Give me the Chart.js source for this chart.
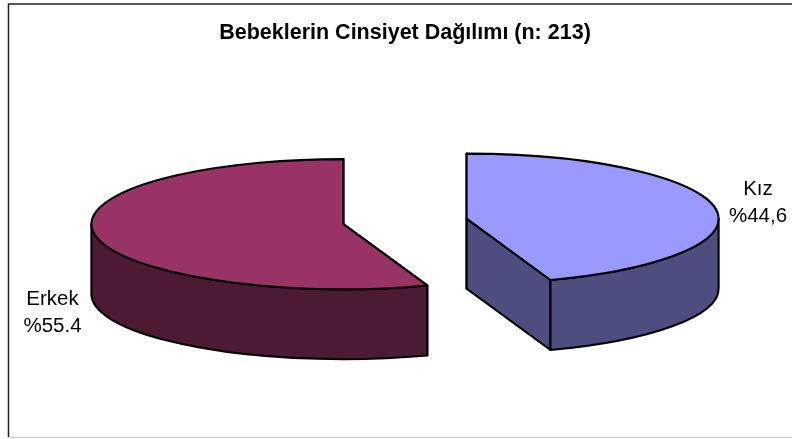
<!DOCTYPE html>
<html>
<head>
<meta charset="utf-8">
<title>Bebeklerin Cinsiyet Dağılımı</title>
<script src="https://cdn.jsdelivr.net/npm/chart.js@4"></script>
<style>
    html, body { margin: 0; padding: 0; background: #fff; }
    canvas { display: block; }
</style>
</head>
<body>
<canvas id="pie" width="792" height="439"></canvas>
<script>
const chartTitle = 'Bebeklerin Cinsiyet Dağılımı (n: 213)';
const categories = ['Kız', 'Erkek'];
const percentLabels = ['%44,6', '%55.4'];
const values = [44.6, 55.4];

const topColors = ['#9999FF', '#993366'];
const wallColors = ['#4D4D80', '#4D1A33'];
const labelCenters = [[758, 195], [52.5, 305]];

// aspecto del pastel 3D
const squash = 0.258;
const depth = 70;
const explode = 62.5;
const pieRadius = 252;
const outline = 2.1;

// centro de la porcion ya separado, en pantalla (el eje y va aplastado)
function sliceGeometry(arc, cy) {
    return {
        x: arc.x,
        y: cy + (arc.y - cy) * squash,
        r: arc.outerRadius,
        start: arc.startAngle,
        end: arc.endAngle
    };
}

function wallPath(ctx, g) {
    // pared exterior: solo la mitad inferior de la elipse se ve
    const ranges = [[0, Math.PI], [2 * Math.PI, 3 * Math.PI]];
    ranges.forEach(function(range) {
        const a = Math.max(g.start, range[0]);
        const b = Math.min(g.end, range[1]);
        if (b <= a) return;
        ctx.beginPath();
        ctx.ellipse(g.x, g.y, g.r, g.r * squash, 0, a, b);
        ctx.ellipse(g.x, g.y + depth, g.r, g.r * squash, 0, b, a, true);
        ctx.closePath();
        ctx.fill();
        ctx.stroke();
    });
}

function cutFace(ctx, g, angle) {
    const px = g.x + Math.cos(angle) * g.r;
    const py = g.y + Math.sin(angle) * g.r * squash;
    ctx.beginPath();
    ctx.moveTo(g.x, g.y);
    ctx.lineTo(px, py);
    ctx.lineTo(px, py + depth);
    ctx.lineTo(g.x, g.y + depth);
    ctx.closePath();
    ctx.fill();
    ctx.stroke();
}

function centerY(chart) {
    return (chart.chartArea.top + chart.chartArea.bottom) / 2;
}

const pie3d = {
    id: 'pie3d',
    afterDatasetsUpdate(chart) {
        // separar las porciones desde el centro
        chart.getDatasetMeta(0).data.forEach(function(arc) {
            const mid = (arc.startAngle + arc.endAngle) / 2;
            arc.x += Math.cos(mid) * explode;
            arc.y += Math.sin(mid) * explode;
        });
    },
    beforeDraw(chart) {
        // marco del grafico
        const ctx = chart.ctx;
        ctx.save();
        ctx.fillStyle = '#fff';
        ctx.fillRect(0, 0, 792, 439);
        ctx.strokeStyle = '#222';
        ctx.lineWidth = 1.5;
        ctx.beginPath();
        ctx.moveTo(792, 4);
        ctx.lineTo(8.5, 4);
        ctx.lineTo(8.5, 437);
        ctx.stroke();
        ctx.strokeStyle = '#ccc';
        ctx.lineWidth = 1;
        ctx.beginPath();
        ctx.moveTo(8, 437.5);
        ctx.lineTo(792, 437.5);
        ctx.stroke();
        ctx.restore();
    },
    beforeDatasetsDraw(chart) {
        const ctx = chart.ctx;
        const cy = centerY(chart);
        const arcs = chart.getDatasetMeta(0).data;
        ctx.save();
        ctx.strokeStyle = '#000';
        ctx.lineWidth = outline;
        ctx.lineJoin = 'round';
        arcs.forEach(function(arc, i) {
            const g = sliceGeometry(arc, cy);
            ctx.fillStyle = wallColors[i];
            cutFace(ctx, g, g.start);
            cutFace(ctx, g, g.end);
            wallPath(ctx, g);
        });
        ctx.restore();

        // las caras superiores las dibuja Chart.js, aplastadas
        ctx.save();
        ctx.translate(0, cy);
        ctx.scale(1, squash);
        ctx.translate(0, -cy);
    },
    afterDatasetsDraw(chart) {
        const ctx = chart.ctx;
        ctx.restore();
        const cy = centerY(chart);
        ctx.save();
        ctx.strokeStyle = '#000';
        ctx.lineWidth = outline;
        ctx.lineJoin = 'round';
        chart.getDatasetMeta(0).data.forEach(function(arc) {
            const g = sliceGeometry(arc, cy);
            ctx.beginPath();
            ctx.moveTo(g.x, g.y);
            ctx.ellipse(g.x, g.y, g.r, g.r * squash, 0, g.start, g.end);
            ctx.closePath();
            ctx.stroke();
        });
        // etiquetas
        ctx.fillStyle = '#000';
        ctx.font = '20.5px "Liberation Sans", Arial, sans-serif';
        ctx.textAlign = 'center';
        ctx.textBaseline = 'alphabetic';
        categories.forEach(function(name, i) {
            ctx.fillText(name, labelCenters[i][0], labelCenters[i][1]);
            ctx.fillText(percentLabels[i], labelCenters[i][0], labelCenters[i][1] + 27);
        });
        ctx.restore();
    }
};

new Chart(document.getElementById('pie').getContext('2d'), {
    type: 'pie',
    data: {
        labels: categories,
        datasets: [{
            data: values,
            backgroundColor: topColors,
            borderWidth: 0
        }]
    },
    options: {
        responsive: false,
        animation: false,
        radius: pieRadius,
        rotation: 0,
        layout: { padding: { left: 18, right: 0, top: 0, bottom: 52 } },
        events: [],
        plugins: {
            legend: { display: false },
            tooltip: { enabled: false },
            title: {
                display: true,
                text: chartTitle,
                color: '#000',
                font: { family: '"Liberation Sans", Arial, sans-serif', size: 21.5, weight: 'bold' },
                padding: { top: 20, bottom: 10 }
            }
        }
    },
    plugins: [pie3d]
});
</script>
</body>
</html>
